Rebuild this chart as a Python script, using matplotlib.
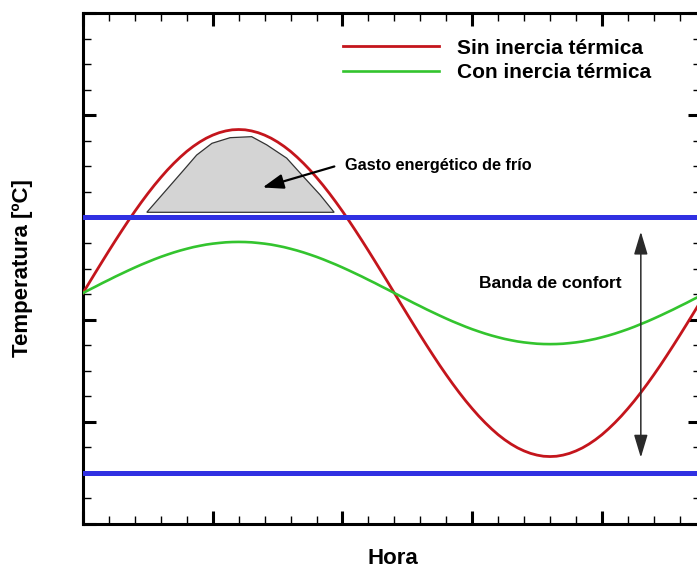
import numpy as np
import matplotlib
matplotlib.use('Agg')
import matplotlib.pyplot as plt
from matplotlib.ticker import MultipleLocator

plt.rcParams['font.family'] = ['Liberation Sans', 'DejaVu Sans']
plt.rcParams['font.weight'] = 'bold'

# hours, read every quarter hour
hora = np.arange(0, 24.01, 0.25)

# temperatures
sin_inercia = [
    22.60, 23.65, 24.69, 25.72, 26.74, 27.74, 28.72, 29.68, 30.60, 31.49,
    32.34, 33.15, 33.91, 34.63, 35.29, 35.90, 36.46, 36.95, 37.38, 37.75,
    38.05, 38.29, 38.46, 38.57, 38.60,
    38.57, 38.46, 38.29, 38.05, 37.75, 37.38, 36.95, 36.46, 35.90, 35.29,
    34.63, 33.91, 33.15, 32.34, 31.49, 30.60, 29.68, 28.72, 27.74, 26.74,
    25.72, 24.69, 23.65, 22.60,
    21.55, 20.51, 19.48, 18.46, 17.46, 16.48, 15.52, 14.60, 13.71, 12.86,
    12.05, 11.29, 10.57, 9.91, 9.30, 8.74, 8.25, 7.82, 7.45, 7.15,
    6.91, 6.74, 6.63, 6.60,
    6.63, 6.74, 6.91, 7.15, 7.45, 7.82, 8.25, 8.74, 9.30, 9.91,
    10.57, 11.29, 12.05, 12.86, 13.71, 14.60, 15.52, 16.48, 17.46, 18.46,
    19.48, 20.51, 21.55, 22.60]
con_inercia = [
    22.60, 22.93, 23.25, 23.58, 23.89, 24.21, 24.51, 24.81, 25.10, 25.38,
    25.64, 25.90, 26.14, 26.36, 26.57, 26.76, 26.93, 27.09, 27.22, 27.34,
    27.43, 27.50, 27.56, 27.59, 27.60,
    27.59, 27.56, 27.50, 27.43, 27.34, 27.22, 27.09, 26.93, 26.76, 26.57,
    26.36, 26.14, 25.90, 25.64, 25.38, 25.10, 24.81, 24.51, 24.21, 23.89,
    23.58, 23.25, 22.93, 22.60,
    22.27, 21.95, 21.62, 21.31, 20.99, 20.69, 20.39, 20.10, 19.82, 19.56,
    19.30, 19.06, 18.84, 18.63, 18.44, 18.27, 18.11, 17.98, 17.86, 17.77,
    17.70, 17.64, 17.61, 17.60,
    17.61, 17.64, 17.70, 17.77, 17.86, 17.98, 18.11, 18.27, 18.44, 18.63,
    18.84, 19.06, 19.30, 19.56, 19.82, 20.10, 20.39, 20.69, 20.99, 21.31,
    21.62, 21.95, 22.27, 22.60]

# comfort band limits
banda_sup = 30
banda_inf = 5

# cooling-energy area (hand drawn outline)
gasto_x = [2.46, 3.87, 4.38, 4.97, 5.67, 6.50, 7.08, 7.85, 8.49, 9.14, 9.68]
gasto_y = [30.5, 34.6, 36.1, 37.25, 37.8, 37.9, 37.1, 35.8, 34.0, 32.2, 30.5]

fig = plt.figure(figsize=(6.97, 5.69), dpi=100)
ax = fig.add_axes([83/697, 1-524/569, (700.5-83)/697, (524-13)/569])

ax.fill(gasto_x, gasto_y, facecolor='#d4d4d4', edgecolor='#333333', lw=0.9, zorder=2)
ax.plot(hora, sin_inercia, color='#c4151c', lw=2.0, label='Sin inercia térmica', zorder=3)
ax.plot(hora, con_inercia, color='#33c42e', lw=1.9, label='Con inercia térmica', zorder=3)
ax.axhline(banda_sup, color='#3030e2', lw=3.6, zorder=4)
ax.axhline(banda_inf, color='#3030e2', lw=3.6, zorder=4)

ax.annotate('', xy=(6.82, 32.85), xytext=(9.79, 35.06),
            arrowprops=dict(arrowstyle='-|>,head_length=0.9,head_width=0.32',
                            mutation_scale=14, color='black', lw=1.6))
ax.text(10.1, 35.1, 'Gasto energético de frío', fontsize=11.7, fontweight='bold',
        ha='left', va='center')

ax.annotate('', xy=(21.5, 28.6), xytext=(21.5, 6.5),
            arrowprops=dict(arrowstyle='<|-|>,head_length=1.0,head_width=0.3',
                            mutation_scale=14, color='#2a2a2a', lw=1.1,
                            shrinkA=0, shrinkB=0))
ax.text(18.0, 23.5, 'Banda de confort', fontsize=12.5, fontweight='bold',
        ha='center', va='center')

ax.set_xlim(0, 23.8)
ax.set_ylim(0, 50)
ax.xaxis.set_major_locator(MultipleLocator(5))
ax.xaxis.set_minor_locator(MultipleLocator(1))
ax.yaxis.set_major_locator(MultipleLocator(10))
ax.yaxis.set_minor_locator(MultipleLocator(2.5))
ax.tick_params(which='both', direction='in', top=True, right=True,
               labelbottom=False, labelleft=False)
ax.tick_params(which='major', length=9.4, width=2.2)
ax.tick_params(which='minor', length=6.0, width=1.0)
for s in ax.spines.values():
    s.set_linewidth(2.2)

ax.set_xlabel('Hora', fontsize=16, fontweight='bold')
ax.set_ylabel('Temperatura [ºC]', fontsize=16, fontweight='bold')
ax.xaxis.set_label_coords(0.502, -0.046)
ax.yaxis.set_label_coords(-0.081, 0.501)

ax.legend(loc='center left', bbox_to_anchor=(0.421, 0.907), frameon=False,
          handlelength=4.6, handletextpad=0.85, labelspacing=0.28,
          borderpad=0, borderaxespad=0, prop={'weight': 'bold', 'size': 15})

fig.savefig('out.png', dpi=100)
